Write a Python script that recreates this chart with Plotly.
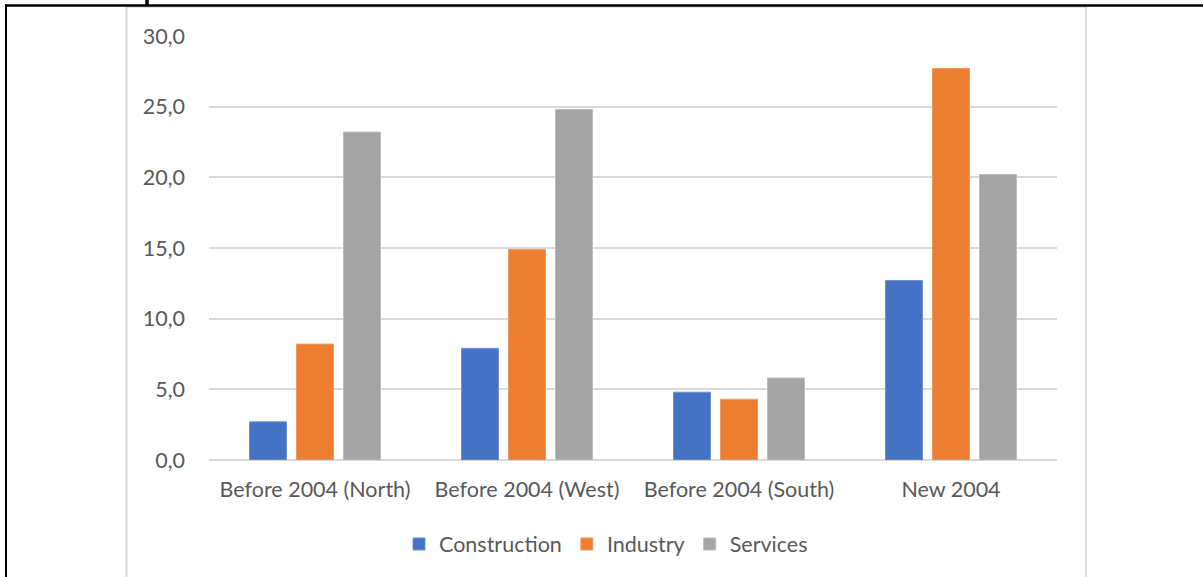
import plotly.graph_objects as go

# Employment growth by sector and country group
categories = ["Before 2004 (North)", "Before 2004 (West)", "Before 2004 (South)", "New 2004"]
construction = [2.7, 7.9, 4.8, 12.7]
industry = [8.2, 14.9, 4.3, 27.7]
services = [23.2, 24.8, 5.8, 20.2]
y_ticks = [0, 5, 10, 15, 20, 25, 30]

W, H = 1203, 577
L, R, T, B = 209, 1057, 36, 460  # plot area in pixels


def px_x(px):
    return (px - L) / (R - L)


def px_y(py):
    return (B - py) / (B - T)


FONT = "Lato, 'Open Sans', sans-serif"
TXT = "#595959"
FS = 21.5

fig = go.Figure()
for name, vals, col, edge in [
    ("Construction", construction, "#4472C4", "#6f92d6"),
    ("Industry", industry, "#ED7D31", "#f39a61"),
    ("Services", services, "#A5A5A5", "#bdbdbd"),
]:
    fig.add_trace(go.Bar(
        x=categories, y=vals, name=name,
        marker=dict(color=col, line=dict(color=edge, width=1)),
    ))

shapes = [
    # chart frame
    dict(type="line", xref="paper", yref="paper", x0=px_x(126.5), x1=px_x(126.5),
         y0=px_y(6), y1=px_y(580), line=dict(color="#d9d9d9", width=2)),
    dict(type="line", xref="paper", yref="paper", x0=px_x(1086), x1=px_x(1086),
         y0=px_y(6), y1=px_y(580), line=dict(color="#d9d9d9", width=2)),
    dict(type="line", xref="paper", yref="paper", x0=px_x(126), x1=px_x(1087),
         y0=px_y(7), y1=px_y(7), line=dict(color="#d9d9d9", width=1.5)),
    # page border
    dict(type="line", xref="paper", yref="paper", x0=px_x(5), x1=px_x(1210),
         y0=px_y(5.5), y1=px_y(5.5), line=dict(color="black", width=2.5)),
    dict(type="line", xref="paper", yref="paper", x0=px_x(6), x1=px_x(6),
         y0=px_y(4.5), y1=px_y(580), line=dict(color="black", width=2)),
    dict(type="line", xref="paper", yref="paper", x0=px_x(147), x1=px_x(147),
         y0=px_y(-2), y1=px_y(5), line=dict(color="black", width=3.5)),
]

fig.update_layout(
    width=W, height=H,
    margin=dict(l=L, r=W - R, t=T, b=H - B, pad=0),
    paper_bgcolor="white", plot_bgcolor="white",
    separators=",.",
    barmode="group", bargap=0.335, bargroupgap=0.213,
    font=dict(family=FONT, size=FS, color=TXT),
    showlegend=True,
    legend=dict(orientation="h", x=px_x(606), y=px_y(544), xanchor="center", yanchor="middle",
                font=dict(family=FONT, size=FS, color=TXT), itemwidth=30,
                traceorder="normal", bgcolor="rgba(0,0,0,0)"),
    shapes=shapes,
)
fig.update_yaxes(range=[0, 30], tickvals=y_ticks, tickformat=".1f",
                 showgrid=True, gridcolor="#d9d9d9", gridwidth=1.5,
                 zeroline=True, zerolinecolor="#d9d9d9", zerolinewidth=1.5,
                 showline=False, ticks="", ticklabelstandoff=23,
                 tickfont=dict(family=FONT, size=FS, color=TXT))
fig.update_xaxes(showgrid=False, showline=False, ticks="", ticklabelstandoff=14,
                 tickfont=dict(family=FONT, size=FS, color=TXT))

fig.write_html("out.html")
